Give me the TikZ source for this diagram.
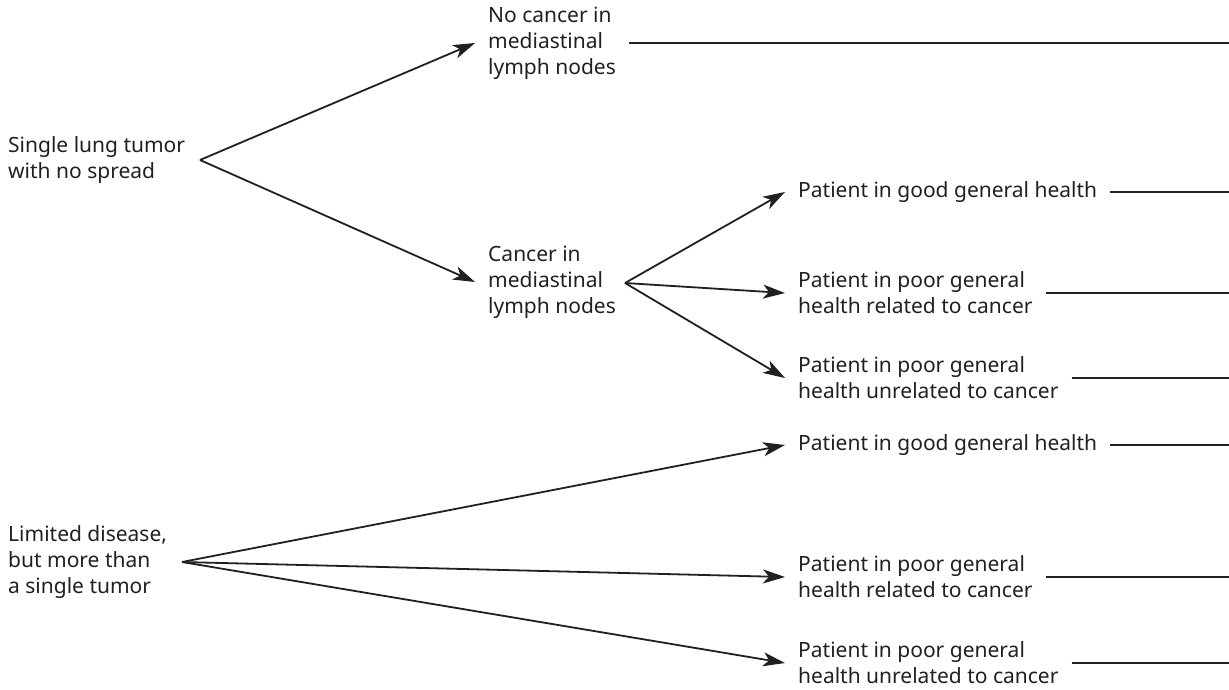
\documentclass[tikz,border=0pt]{standalone}
\usepackage{fontspec}
\setmainfont{Noto Sans}
\usetikzlibrary{arrows.meta}
\definecolor{ink}{HTML}{231F20}
\begin{document}
\begin{tikzpicture}[x=1pt,y=-1pt,
  txt/.style={anchor=west,align=left,inner xsep=13pt,inner ysep=0pt,
    font=\fontsize{21}{26}\selectfont,text=ink},
  arr/.style={draw=ink,line width=1.8pt,-{Stealth[length=22pt,width=14pt,inset=6pt]}},
  rule/.style={draw=ink,line width=1.8pt}]
\useasboundingbox (0,0) rectangle (1229,689);
\coordinate (R) at (1229,0);
% left column
\node[txt] (a) at (-5,160) {Single lung tumor\\with no spread};
\node[txt] (b) at (-5,562) {Limited disease,\\but more than\\a single tumor};
\coordinate (fa) at (200,160);
\coordinate (fb) at (182,562);
% middle column
\node[txt] (m1) at (475,43) {No cancer in\\mediastinal\\lymph nodes};
\node[txt] (m2) at (475,282) {Cancer in\\mediastinal\\lymph nodes};
\coordinate (fm) at (625,283);
% right column
\node[txt] (r1) at (785,192) {Patient in good general health};
\node[txt] (r2) at (785,293) {Patient in poor general\\health related to cancer};
\node[txt] (r3) at (785,378) {Patient in poor general\\health unrelated to cancer};
\node[txt] (r4) at (785,445) {Patient in good general health};
\node[txt] (r5) at (785,577) {Patient in poor general\\health related to cancer};
\node[txt] (r6) at (785,663) {Patient in poor general\\health unrelated to cancer};
% arrows
\draw[arr] (fa) -- (m1.west);
\draw[arr] (fa) -- (m2.west);
\draw[arr] (fm) -- (r1.west);
\draw[arr] (fm) -- (r2.west);
\draw[arr] (fm) -- (r3.west);
\draw[arr] (fb) -- (r4.west);
\draw[arr] (fb) -- (r5.west);
\draw[arr] (fb) -- (r6.west);
% outcome lines
\foreach \n in {m1,r1,r2,r3,r4,r5,r6}
  \draw[rule] (\n.east) -- (\n.east -| R);
\end{tikzpicture}
\end{document}
